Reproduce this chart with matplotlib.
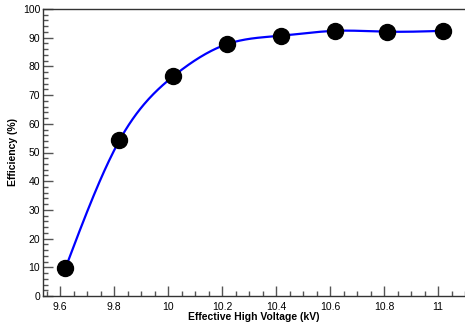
import numpy as np
import matplotlib
matplotlib.use("Agg")
import matplotlib.pyplot as plt
from matplotlib.ticker import MultipleLocator

voltage = [9.62, 9.82, 10.02, 10.22, 10.42, 10.62, 10.81, 11.02]
efficiency = [9.7, 54.2, 76.6, 87.8, 90.7, 92.4, 92.1, 92.4]

def natural_spline(x, y, xs):
    x = np.asarray(x, float); y = np.asarray(y, float)
    n = len(x)
    h = np.diff(x)
    A = np.zeros((n, n)); b = np.zeros(n)
    A[0, 0] = 1; A[-1, -1] = 1
    for i in range(1, n - 1):
        A[i, i - 1] = h[i - 1]
        A[i, i] = 2 * (h[i - 1] + h[i])
        A[i, i + 1] = h[i]
        b[i] = 6 * ((y[i + 1] - y[i]) / h[i] - (y[i] - y[i - 1]) / h[i - 1])
    M = np.linalg.solve(A, b)
    out = np.empty_like(xs)
    for k, xv in enumerate(xs):
        i = min(max(np.searchsorted(x, xv) - 1, 0), n - 2)
        t1 = x[i + 1] - xv; t0 = xv - x[i]
        out[k] = (M[i] * t1**3 + M[i + 1] * t0**3) / (6 * h[i]) \
            + (y[i] / h[i] - M[i] * h[i] / 6) * t1 \
            + (y[i + 1] / h[i] - M[i + 1] * h[i] / 6) * t0
    return out

plt.rcParams['font.family'] = ['Liberation Sans', 'DejaVu Sans']

fig = plt.figure(figsize=(4.65, 3.23), dpi=100)
ax = fig.add_axes([43/465, 27/323, 1 - 43/465, (296 - 9)/323])

xs = np.linspace(voltage[0], voltage[-1], 400)
ax.plot(xs, natural_spline(voltage, efficiency, xs), color='#0000ff', lw=1.6, zorder=2)
ax.plot(voltage, efficiency, 'o', color='black', ms=11.5, zorder=3)

ax.set_xlim(9.537, 11.1)
ax.set_ylim(0, 100)
ax.xaxis.set_major_locator(MultipleLocator(0.2))
ax.xaxis.set_minor_locator(MultipleLocator(0.05))
ax.yaxis.set_major_locator(MultipleLocator(10))
ax.yaxis.set_minor_locator(MultipleLocator(2))
ax.set_xticks([9.6, 9.8, 10.0, 10.2, 10.4, 10.6, 10.8, 11.0])
ax.set_xticklabels(['9.6', '9.8', '10', '10.2', '10.4', '10.6', '10.8', '11'])

ax.tick_params(which='both', direction='in', top=False, right=False,
               labelsize=7.5, color='#555555')
ax.tick_params(axis='x', pad=4)
ax.tick_params(axis='y', pad=2)
ax.tick_params(which='major', length=7, width=1)
ax.tick_params(which='minor', length=3.5, width=1)
for s in ax.spines.values():
    s.set_color('#333333')
    s.set_linewidth(1)
ax.spines['right'].set_visible(False)

ax.set_xlabel('Effective High Voltage (kV)', fontsize=7.5, fontweight='bold')
ax.set_ylabel('Efficiency (%)', fontsize=7.5, fontweight='bold')
ax.xaxis.set_label_coords(0.5, -16/287)
ax.yaxis.set_label_coords(-25/422, 0.5)

fig.savefig('out.png', dpi=100)
